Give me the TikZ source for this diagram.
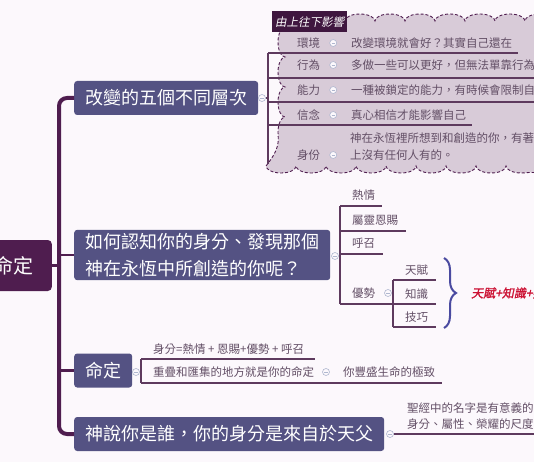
\documentclass[tikz,border=0pt]{standalone}
\usepackage{fontspec}
\setmainfont{Noto Sans CJK TC}
\newfontfamily\tiltfont[FakeSlant=0.2]{Noto Sans CJK TC}
\newfontfamily\tiltboldfont[FakeSlant=0.2,FakeBold=1.5]{Noto Sans CJK TC}
\usepackage{xcolor}
\usepackage{tikz}
\usetikzlibrary{positioning, decorations.pathmorphing, decorations.pathreplacing}
\definecolor{paper}{HTML}{FCF8FC}
\definecolor{plum}{HTML}{4F1D4F}
\definecolor{slate}{HTML}{545283}
\definecolor{twigc}{HTML}{5E3A5E}
\definecolor{leafc}{HTML}{634F66}
\definecolor{mist}{HTML}{D8CBD8}
\definecolor{foldc}{HTML}{AFB7CF}
\definecolor{bracec}{HTML}{4A4AA0}
\definecolor{crimson}{HTML}{CC1133}
\tikzset{
  root/.style={rectangle, fill=plum, text=white, rounded corners=4pt, anchor=east, font=\fontsize{20}{24}\selectfont, minimum height=51pt, inner xsep=18pt},
  branch/.style={rectangle, fill=slate, text=white, rounded corners=3pt, anchor=west, align=left, font=\fontsize{18}{27}\selectfont, minimum height=34pt, inner xsep=11pt},
  leaf/.style={anchor=west, inner sep=0pt, text=leafc, align=left, font=\fontsize{11.5}{17}\selectfont},
  fold/.style={circle, draw=foldc, fill=paper, inner sep=0pt, minimum size=7pt, line width=0.6pt,
    path picture={\draw[foldc, line width=0.6pt] ([xshift=-1.6pt]path picture bounding box.center) -- ([xshift=1.6pt]path picture bounding box.center);}},
  trunk/.style={draw=plum, line width=4pt, rounded corners=8pt},
  spoke/.style={draw=plum, line width=2.5pt},
  twigline/.style={draw=twigc, line width=1.3pt},
  cloudy/.style={draw=plum, dash pattern=on 3pt off 2pt, fill=mist, line width=0.9pt, decorate, decoration={bumps, segment length=60pt, amplitude=7pt}},
  tag/.style={rectangle, fill=plum!80!black, text=white, anchor=north west, inner xsep=3pt, minimum height=21pt, font=\tiltfont\fontsize{11.5}{14}\selectfont},
  bracket/.style={draw=bracec, line width=2pt, decorate, decoration={brace, amplitude=12pt}},
}

\begin{document}
\begin{tikzpicture}[x=1pt, y=-1pt]
  \useasboundingbox (0,0) rectangle (534,462);
  \fill[paper] (0,0) rectangle (534,462);
  \clip (0,0) rectangle (534,462);

  % root and main branches
  \node[root] (fate) at (52,265.5) {命定};
  \node[branch] (levels) at (74,98) {改變的五個不同層次};
  \node[branch] (identity) at (74,255) {如何認知你的身分、發現那個\\神在永恆中所創造的你呢？};
  \node[branch] (destiny) at (74,370.5) {命定};
  \node[branch] (source) at (74,434) {神說你是誰，你的身分是來自於天父};
  \coordinate (hub) at (59,265.5);
  \draw[trunk] (levels.west) -| (hub) |- (source.west);
  \draw[spoke] (fate.east) -- (hub);
  \draw[spoke] (hub |- identity.west) -- (identity.west);
  \draw[spoke] (hub |- destiny.west) -- (destiny.west);

  % five levels, inside the cloud
  \draw[twigline] (268,164) -- (284,164);
  \draw[cloudy] (285,21) -- (548,21) -- (548,166) -- (285,166) -- cycle;
  \node[tag] (topdown) at (272,11) {由上往下影響};
  \node[fold] (levelsfold) at (262,98) {};
  \coordinate (levelsbar) at (268,98);
  \draw[twigline] (levelsfold) -- (levelsbar);
  \draw[twigline] (268,53) -- (268,164);
  \draw[twigline] (268,53) -- (518,53);
  \draw[twigline] (268,78) -- (540,78);
  \draw[twigline] (268,102) -- (540,102);
  \draw[twigline] (268,125) -- (472,125);
  \node[leaf] (env) at (297,43) {環境};
  \node[fold, right=9pt of env] (envfold) {};
  \node[leaf, right=14pt of envfold] (envtext) {改變環境就會好？其實自己還在};
  \node[leaf] (act) at (297,65) {行為};
  \node[fold, right=9pt of act] (actfold) {};
  \node[leaf, right=14pt of actfold] (acttext) {多做一些可以更好，但無法單靠行為改變};
  \node[leaf] (skillset) at (297,90) {能力};
  \node[fold, right=9pt of skillset] (skillsetfold) {};
  \node[leaf, right=14pt of skillsetfold] (skillsettext) {一種被鎖定的能力，有時候會限制自己};
  \node[leaf] (belief) at (297,115) {信念};
  \node[fold, right=9pt of belief] (belieffold) {};
  \node[leaf, right=14pt of belieffold] (belieftext) {真心相信才能影響自己};
  \node[leaf] (self) at (297,155) {身份};
  \node[fold, right=9pt of self] (selffold) {};
  \node[leaf] (selftext) at (350,146.5) {神在永恆裡所想到和創造的你，有著\\上沒有任何人有的。};

  % how to know who you are
  \node[fold] (identityfold) at (335,256) {};
  \draw[twigline] (identityfold) -- (340,256);
  \draw[twigline] (340,206) -- (340,304);
  \draw[twigline] (340,206) -- (382,206);
  \draw[twigline] (340,231) -- (406,231);
  \draw[twigline] (340,254) -- (383,254);
  \draw[twigline] (340,304) -- (436,304);
  \node[leaf] (passion) at (352,195) {熱情};
  \node[leaf] (gift) at (352,220) {屬靈恩賜};
  \node[leaf] (calling) at (352,243) {呼召};
  \node[leaf] (strength) at (352,293) {優勢};
  \node[fold] (strengthfold) at (388,293) {};
  \draw[twigline] (393,280) -- (393,327);
  \draw[twigline] (393,280) -- (436,280);
  \draw[twigline] (393,327) -- (436,327);
  \node[leaf] (talent) at (405,270) {天賦};
  \node[leaf] (knowledge) at (405,294) {知識};
  \node[leaf] (craft) at (405,317) {技巧};
  \coordinate (bracetop) at (444,258);
  \coordinate (bracebot) at (444,328);
  \draw[bracket] (bracetop) -- (bracebot);
  \node[anchor=west, inner sep=0pt, text=crimson, font=\tiltboldfont\fontsize{12}{14}\selectfont] (sum) at (471,293) {天賦+知識+技巧};

  % destiny
  \node[fold] (destinyfold) at (136,372) {};
  \draw[twigline] (destinyfold) -- (141,372);
  \draw[twigline] (141,359) -- (141,383);
  \draw[twigline] (141,359) -- (315,359);
  \draw[twigline] (141,383) -- (442,383);
  \node[leaf] (recipe) at (153,349) {身分=熱情 + 恩賜+優勢 + 呼召};
  \node[leaf] (overlap) at (153,372) {重疊和匯集的地方就是你的命定};
  \node[fold] (overlapfold) at (326,372) {};
  \node[leaf] (fullness) at (343,372) {你豐盛生命的極致};

  % where identity comes from
  \node[fold] (sourcefold) at (390,434) {};
  \draw[twigline] (sourcefold) -- (540,434);
  \node[leaf, font=\fontsize{11.5}{16}\selectfont] (names) at (407,416) {聖經中的名字是有意義的\\身分、屬性、榮耀的尺度};
\end{tikzpicture}
\end{document}
